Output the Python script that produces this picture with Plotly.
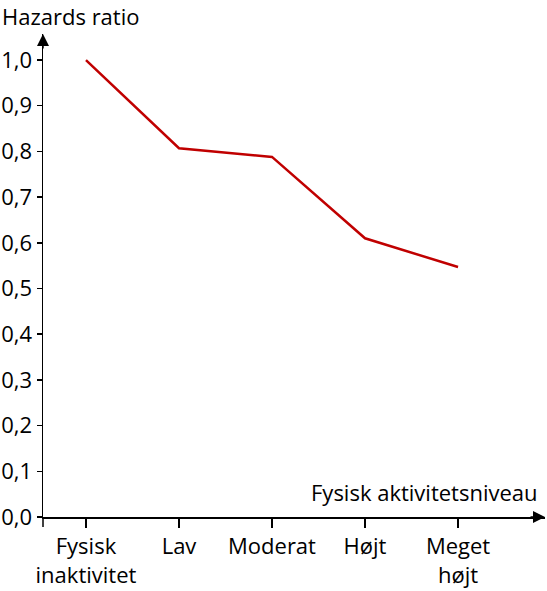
import plotly.graph_objects as go

categories = ["Fysisk<br>inaktivitet", "Lav", "Moderat", "Højt", "Meget<br>højt"]
hazard_ratio = [1.0, 0.807, 0.788, 0.61, 0.547]
y_ticks = [0.0, 0.1, 0.2, 0.3, 0.4, 0.5, 0.6, 0.7, 0.8, 0.9, 1.0]

FONT = "Open Sans"
FS = 22
W, H = 547, 591
L, R, T, B = 43, 2, 34, 74
PW, PH = W - L - R, H - T - B

fig = go.Figure()
fig.add_trace(go.Scatter(
    x=categories, y=hazard_ratio, mode="lines",
    line=dict(color="#c00000", width=2.5), hoverinfo="skip"))

fig.update_layout(
    width=W, height=H,
    margin=dict(l=L, r=R, t=T, b=B, autoexpand=False),
    paper_bgcolor="white", plot_bgcolor="white",
    separators=",.",
    showlegend=False,
    font=dict(family=FONT, size=FS, color="black"),
    xaxis=dict(
        type="category", range=[-0.462, 4.935], automargin=False,
        showline=True, linecolor="black", linewidth=1.5,
        ticks="outside", ticklen=9, tickcolor="black", tickwidth=1.5,
        showgrid=False, zeroline=False,
        tickfont=dict(family=FONT, size=FS),
    ),
    yaxis=dict(
        range=[0, 1.057], automargin=False,
        tickvals=y_ticks, tickformat=".1f",
        showline=True, linecolor="black", linewidth=1.5,
        ticks="outside", ticklen=5, tickcolor="black", tickwidth=1.5,
        showgrid=False, zeroline=False,
        tickfont=dict(family=FONT, size=FS),
    ),
)

# y axis extension below x axis
fig.add_shape(type="line", xref="paper", yref="paper", x0=0, x1=0, y0=0, y1=-10 / PH,
              line=dict(color="black", width=1.5))

# arrowheads
fig.add_annotation(xref="paper", yref="paper", x=0, y=1, ax=0, ay=16,
                   axref="pixel", ayref="pixel", showarrow=True, arrowhead=2,
                   arrowsize=1.6, arrowwidth=1.5, arrowcolor="black", text="")
fig.add_annotation(xref="paper", yref="paper", x=1, y=0, ax=-16, ay=0,
                   axref="pixel", ayref="pixel", showarrow=True, arrowhead=2,
                   arrowsize=1.6, arrowwidth=1.5, arrowcolor="black", text="")

# titles
fig.add_annotation(xref="paper", yref="paper", x=-L / PW, y=1 + (T - 16) / PH,
                   text="Hazards ratio", showarrow=False, xanchor="left", yanchor="middle",
                   font=dict(family=FONT, size=FS))
fig.add_annotation(xref="paper", yref="paper", x=1 - 5 / PW, y=25 / PH,
                   text="Fysisk aktivitetsniveau", showarrow=False, xanchor="right", yanchor="middle",
                   font=dict(family=FONT, size=FS))

fig.write_html("out.html", config={"displayModeBar": False, "staticPlot": True},
               post_script="document.body.style.margin='0';document.body.style.overflow='hidden';")
